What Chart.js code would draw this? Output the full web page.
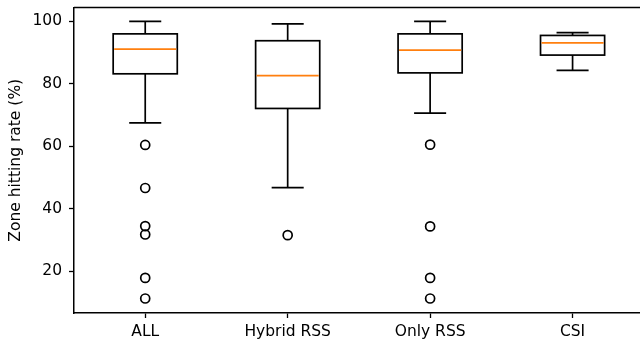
<!DOCTYPE html>
<html>
<head>
<meta charset="utf-8">
<script src="https://cdn.jsdelivr.net/npm/chart.js@4"></script>
<style>
  html, body { margin: 0; padding: 0; background: #fff; overflow: hidden; }
</style>
</head>
<body>
<canvas id="boxChart" width="650" height="343"></canvas>
<script>
// zone hitting rate per method, box statistics in %
const categories = ['ALL', 'Hybrid RSS', 'Only RSS', 'CSI'];
const whiskerLow = [67.5, 46.7, 70.6, 84.3];
const q1 = [83.2, 72.1, 83.5, 89.2];
const medians = [91.1, 82.6, 90.8, 93.1];
const q3 = [96.0, 93.8, 96.0, 95.5];
const whiskerHigh = [100, 99.2, 100, 96.4];
const outliers = [
  [60.4, 46.6, 34.4, 31.7, 17.8, 11.2],
  [31.5],
  [60.5, 34.3, 17.8, 11.2],
  []
];
const yTicks = [20, 40, 60, 80, 100];

const boxWidth = 0.45;
const font = { family: 'DejaVu Sans', size: 15.5 };

const outlierPoints = [];
outliers.forEach((vals, i) => vals.forEach(v => outlierPoints.push({ x: i + 1, y: v })));

// boxes, whiskers, caps and medians drawn on the chart's scales
const boxPlot = {
  id: 'boxPlot',
  afterDatasetsDraw(chart) {
    const { ctx, chartArea } = chart;
    const x = chart.scales.x, y = chart.scales.y;
    ctx.save();
    ctx.strokeStyle = '#000';
    ctx.lineWidth = 1.7;
    categories.forEach((c, i) => {
      const pos = i + 1;
      const cx = x.getPixelForValue(pos);
      const bl = x.getPixelForValue(pos - boxWidth / 2);
      const br = x.getPixelForValue(pos + boxWidth / 2);
      const cl = x.getPixelForValue(pos - boxWidth / 4);
      const cr = x.getPixelForValue(pos + boxWidth / 4);
      const yLo = y.getPixelForValue(whiskerLow[i]);
      const yQ1 = y.getPixelForValue(q1[i]);
      const yMed = y.getPixelForValue(medians[i]);
      const yQ3 = y.getPixelForValue(q3[i]);
      const yHi = y.getPixelForValue(whiskerHigh[i]);

      ctx.beginPath();
      ctx.moveTo(cx, yQ1); ctx.lineTo(cx, yLo);
      ctx.moveTo(cl, yLo); ctx.lineTo(cr, yLo);
      ctx.moveTo(cx, yQ3); ctx.lineTo(cx, yHi);
      ctx.moveTo(cl, yHi); ctx.lineTo(cr, yHi);
      ctx.stroke();

      ctx.strokeRect(bl, yQ3, br - bl, yQ1 - yQ3);

      ctx.strokeStyle = '#ff7f0e';
      ctx.beginPath();
      ctx.moveTo(bl + 1, yMed); ctx.lineTo(br - 1, yMed);
      ctx.stroke();
      ctx.strokeStyle = '#000';
    });
    // top frame line
    ctx.lineWidth = 1.5;
    ctx.beginPath();
    ctx.moveTo(chartArea.left, chartArea.top);
    ctx.lineTo(chartArea.right, chartArea.top);
    ctx.stroke();
    ctx.restore();
  }
};

new Chart(document.getElementById('boxChart'), {
  type: 'scatter',
  data: {
    datasets: [{
      label: 'outliers',
      data: outlierPoints,
      pointStyle: 'circle',
      pointRadius: 4.5,
      pointBorderWidth: 1.7,
      pointBorderColor: '#000',
      pointBackgroundColor: 'rgba(0,0,0,0)'
    }]
  },
  options: {
    responsive: false,
    animation: false,
    layout: { padding: { top: 7.5, left: 0, right: 0, bottom: 0 } },
    plugins: { legend: { display: false }, tooltip: { enabled: false } },
    scales: {
      x: {
        type: 'linear',
        min: 0.5,
        max: 4.5,
        afterBuildTicks: s => { s.ticks = categories.map((c, i) => ({ value: i + 1 })); },
        afterFit: s => { s.height = 30; s.paddingLeft = 0; s.paddingRight = 0; },
        ticks: {
          autoSkip: false,
          maxRotation: 0,
          padding: 5,
          color: '#000',
          font: font,
          callback: v => categories[v - 1]
        },
        grid: { drawOnChartArea: false, drawTicks: true, tickLength: 5, tickWidth: 1.3, tickColor: '#000' },
        border: { display: true, color: '#000', width: 1.5 }
      },
      y: {
        min: 6.55,
        max: 104.45,
        afterBuildTicks: s => { s.ticks = yTicks.map(v => ({ value: v })); },
        afterFit: s => { s.width = 74; s.paddingTop = 0; s.paddingBottom = 0; },
        ticks: { padding: 7, color: '#000', font: font },
        grid: { drawOnChartArea: false, drawTicks: true, tickLength: 5, tickWidth: 1.3, tickColor: '#000' },
        border: { display: true, color: '#000', width: 1.5 },
        title: {
          display: true,
          text: 'Zone hitting rate (%)',
          color: '#000',
          font: font,
          padding: { top: 7, bottom: 0 }
        }
      }
    }
  },
  plugins: [boxPlot]
});
</script>
</body>
</html>
